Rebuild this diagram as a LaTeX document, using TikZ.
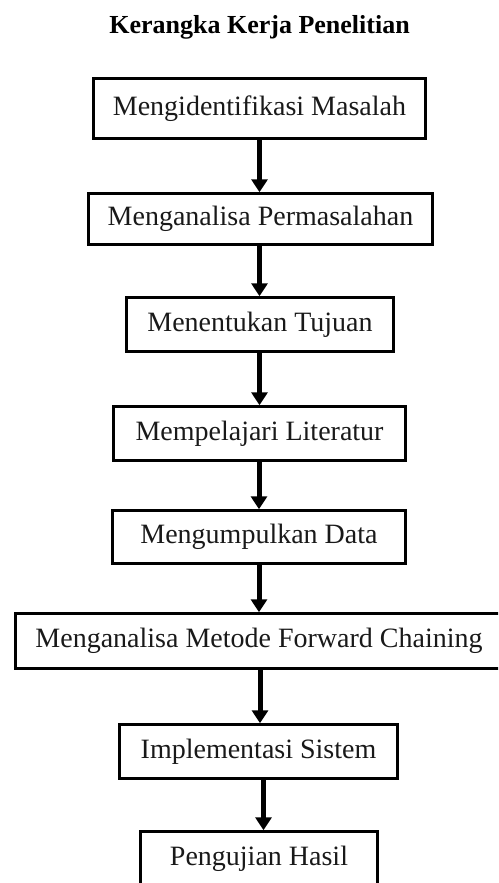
\documentclass[tikz,border=0pt]{standalone}
\usepackage{fontspec}
\setmainfont{Liberation Serif}
\usetikzlibrary{arrows.meta}

\begin{document}
\begin{tikzpicture}[x=1pt, y=-1pt,
  stepbox/.style={draw=black, line width=2.5pt, inner sep=0pt,
    font=\fontsize{28}{32}\selectfont, text=black!90},
  flowarrow/.style={line width=5pt, -{Triangle[width=16pt,length=13pt]}},
  heading/.style={font=\fontsize{26}{30}\selectfont\bfseries, anchor=base}]

  % page frame: the last two boxes run past the page edges
  \useasboundingbox (0,0) rectangle (498,883);
  \clip (0,0) rectangle (498,883);

  \node[heading] (title) at (259.5,34) {Kerangka Kerja Penelitian};

  \node[stepbox, minimum width=332pt, minimum height=60pt] (b1) at (259.5,108.5) {Mengidentifikasi Masalah};
  \node[stepbox, minimum width=344pt, minimum height=51pt] (b2) at (260.5,219) {Menganalisa Permasalahan};
  \node[stepbox, minimum width=267pt, minimum height=54pt] (b3) at (260,324.5) {Menentukan Tujuan};
  \node[stepbox, minimum width=292pt, minimum height=54pt] (b4) at (259.5,433.5) {Mempelajari Literatur};
  \node[stepbox, minimum width=293pt, minimum height=53pt] (b5) at (259,537) {Mengumpulkan Data};
  \node[stepbox, minimum width=487pt, minimum height=55pt] (b6) at (259,641) {Menganalisa Metode Forward Chaining};
  \node[stepbox, minimum width=278pt, minimum height=54pt] (b7) at (258.5,751.5) {Implementasi Sistem};
  \node[stepbox, minimum width=237pt, minimum height=54pt] (b8) at (259,858.5) {Pengujian Hasil};

  \draw[flowarrow] (b1.south) -- (b1.south |- b2.north);
  \draw[flowarrow] (b2.south -| b1.south) -- (b1.south |- b3.north);
  \draw[flowarrow] (b3.south -| b4.south) -- (b4.north);
  \draw[flowarrow] (b4.south -| b5.south) -- (b5.north);
  \draw[flowarrow] (b5.south) -- (b6.north);
  \draw[flowarrow] ([xshift=1pt]b6.south) -- ([xshift=1pt]b6.south |- b7.north);
  \draw[flowarrow] ([xshift=5pt]b7.south) -- ([xshift=5pt]b7.south |- b8.north);
\end{tikzpicture}
\end{document}
